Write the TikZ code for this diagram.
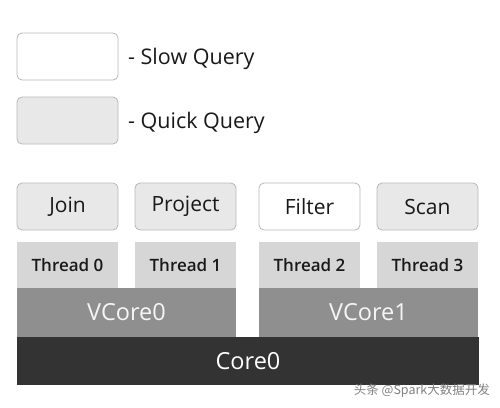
\documentclass[tikz,border=0pt]{standalone}
\usepackage{fontspec}
\setmainfont{Open Sans}[BoldFont={Open Sans Semibold}]
\newfontfamily\cjk{Noto Sans CJK SC}
\usetikzlibrary{positioning}

\begin{document}
\begin{tikzpicture}[x=1pt, y=-1pt,
    opbox/.style={rectangle, draw=black!28, line width=0.8pt, rounded corners=5pt, minimum width=101pt, minimum height=47pt, inner sep=0pt, outer sep=0pt, text=black!90, font=\fontsize{21}{24}\selectfont},
    slow/.style={opbox, fill=white},
    quick/.style={opbox, fill=black!9},
    thread/.style={rectangle, fill=black!16, minimum width=101pt, minimum height=46pt, inner sep=0pt, outer sep=0pt, text=black!90, font=\bfseries\fontsize{17}{20}\selectfont},
    vcore/.style={rectangle, fill=black!44, minimum width=219pt, minimum height=49pt, inner sep=0pt, outer sep=0pt, text=black!4, font=\fontsize{23.5}{26}\selectfont},
    core/.style={rectangle, fill=black!80, minimum width=462pt, minimum height=48pt, inner sep=0pt, outer sep=0pt, text=white, font=\fontsize{23.5}{26}\selectfont},
    keytext/.style={inner sep=0pt, text=black!90, font=\fontsize{21.5}{24}\selectfont}]
    \useasboundingbox (0,0) rectangle (500,407);

    % Legend
    \node [slow, anchor=north west] (slowkey) at (17,33) {};
    \node [quick, below=17pt of slowkey] (quickkey) {};
    \node [keytext, right=10pt of slowkey, yshift=-2pt] (slowtext) {- Slow Query};
    \node [keytext, right=10pt of quickkey, yshift=-2pt] (quicktext) {- Quick Query};

    % Queries
    \node [quick, anchor=north west] (join) at (17,183) {Join};
    \node [quick, right=17pt of join] (project) {Project};
    \node [slow, right=23pt of project] (filter) {Filter};
    \node [quick, right=17pt of filter] (scan) {Scan};

    % Threads
    \node [thread, below=12pt of join] (thread0) {Thread 0};
    \node [thread, below=12pt of project] (thread1) {Thread 1};
    \node [thread, below=12pt of filter] (thread2) {Thread 2};
    \node [thread, below=12pt of scan] (thread3) {Thread 3};

    % Cores
    \node [vcore, anchor=north west] (vcore0) at (thread0.south west) {VCore0};
    \node [vcore, anchor=north west] (vcore1) at (thread2.south west) {VCore1};
    \node [core, anchor=north west] (core0) at (vcore0.south west) {Core0};

    \node [anchor=south east, inner sep=0pt, text=black!50, font=\cjk\fontsize{12.5}{14}\selectfont] (mark) at (490,398) {头条 @Spark大数据开发};
\end{tikzpicture}
\end{document}
